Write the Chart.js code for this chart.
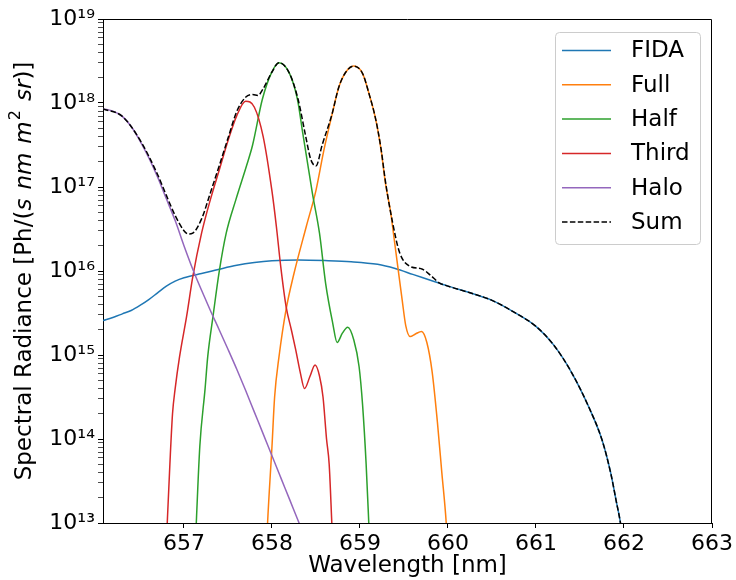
<!DOCTYPE html>
<html>
<head>
<meta charset="utf-8">
<script src="https://cdn.jsdelivr.net/npm/chart.js@4"></script>
<style>
  html, body { margin: 0; padding: 0; background: #fff; }
  #wrap { width: 736px; height: 580px; }
</style>
</head>
<body>
<div id="wrap"><canvas id="specChart" width="736" height="580"></canvas></div>
<script>
// wavelength [nm] and spectral radiance [Ph/(s nm m^2 sr)]
const fidaWl = [656.08, 656.2, 656.3, 656.4, 656.5, 656.6, 656.7, 656.8, 656.9, 657.0, 657.2, 657.4, 657.6, 657.8, 658.0, 658.3, 658.6, 658.9, 659.2, 659.4, 659.6, 659.8, 660.0, 660.25, 660.5, 660.75, 661.0, 661.2, 661.4, 661.6, 661.75, 661.85, 661.91, 661.96, 662.0];
const fidaVal = [2.57e15, 2.82e15, 3.09e15, 3.39e15, 3.89e15, 4.57e15, 5.50e15, 6.61e15, 7.59e15, 8.32e15, 9.33e15, 1.05e16, 1.17e16, 1.26e16, 1.32e16, 1.35e16, 1.33e16, 1.29e16, 1.20e16, 1.07e16, 9.12e15, 7.76e15, 6.61e15, 5.50e15, 4.47e15, 3.24e15, 2.19e15, 1.32e15, 6.31e14, 2.40e14, 9.77e13, 3.89e13, 1.86e13, 1.0e13, 5.0e12];

const fullWl = [657.93, 657.95, 658.00, 658.03, 658.08, 658.16, 658.25, 658.39, 658.50, 658.59, 658.68, 658.76, 658.84, 658.93, 659.03, 659.10, 659.18, 659.24, 659.29, 659.35, 659.39, 659.43, 659.48, 659.52, 659.57, 659.63, 659.70, 659.76, 659.82, 659.88, 659.93, 659.98, 660.0];
const fullVal = [3.2e12, 1.0e13, 8.13e13, 3.16e14, 9.55e14, 3.47e15, 9.33e15, 3.39e16, 9.12e16, 2.75e17, 7.08e17, 1.55e18, 2.34e18, 2.75e18, 2.24e18, 1.32e18, 6.31e17, 2.75e17, 1.10e17, 4.90e16, 2.34e16, 1.12e16, 4.47e15, 2.24e15, 1.66e15, 1.78e15, 1.91e15, 1.41e15, 6.31e14, 1.58e14, 3.98e13, 1.0e13, 4.0e12];

const halfWl = [657.12, 657.14, 657.18, 657.24, 657.27, 657.33, 657.40, 657.48, 657.59, 657.71, 657.78, 657.89, 657.99, 658.08, 658.20, 658.29, 658.35, 658.39, 658.46, 658.54, 658.61, 658.69, 658.74, 658.80, 658.86, 658.93, 658.99, 659.03, 659.07, 659.10, 659.12];
const halfVal = [3.2e12, 1.0e13, 8.13e13, 3.98e14, 9.55e14, 2.88e15, 9.77e15, 2.82e16, 7.08e16, 1.78e17, 3.16e17, 1.10e18, 2.24e18, 3.02e18, 2.24e18, 1.10e18, 4.37e17, 2.40e17, 8.32e16, 2.82e16, 7.08e15, 2.40e15, 1.41e15, 1.82e15, 2.14e15, 1.51e15, 7.24e14, 2.51e14, 5.01e13, 1.0e13, 3.2e12];

const thirdWl = [656.79, 656.81, 656.84, 656.87, 656.90, 656.95, 657.03, 657.10, 657.2, 657.3, 657.4, 657.5, 657.6, 657.7, 657.8, 657.9, 658.0, 658.05, 658.1, 658.16, 658.22, 658.27, 658.32, 658.37, 658.43, 658.49, 658.54, 658.58, 658.62, 658.65, 658.68, 658.70];
const thirdVal = [3.2e12, 1.0e13, 5.01e13, 2.0e14, 3.98e14, 9.55e14, 2.88e15, 8.51e15, 2.82e16, 7.08e16, 1.58e17, 3.55e17, 7.08e17, 1.05e18, 8.91e17, 3.98e17, 8.91e16, 3.39e16, 1.12e16, 3.80e15, 2.0e15, 1.15e15, 6.31e14, 3.98e14, 5.50e14, 7.59e14, 5.62e14, 3.16e14, 1.0e14, 5.01e13, 1.0e13, 3.2e12];

const haloWl = [656.08, 656.2, 656.3, 656.4, 656.5, 656.6, 656.7, 656.8, 656.9, 657.0, 657.1, 657.2, 657.3, 657.4, 657.5, 657.6, 657.7, 657.8, 657.9, 658.0, 658.1, 658.2, 658.3, 658.4];
const haloVal = [8.51e17, 7.94e17, 6.92e17, 5.25e17, 3.55e17, 2.24e17, 1.32e17, 7.24e16, 3.98e16, 2.0e16, 1.05e16, 5.89e15, 3.39e15, 2.00e15, 1.17e15, 6.76e14, 3.80e14, 2.09e14, 1.15e14, 6.31e13, 3.47e13, 1.91e13, 1.05e13, 5.8e12];

const sumWl = [656.08, 656.3, 656.5, 656.7, 656.8, 656.9, 657.0, 657.05, 657.1, 657.2, 657.3, 657.4, 657.5, 657.6, 657.7, 657.78, 657.84, 657.9, 658.0, 658.08, 658.2, 658.3, 658.38, 658.44, 658.5, 658.57, 658.68, 658.76, 658.84, 658.93, 659.03, 659.10, 659.18, 659.24, 659.29, 659.37, 659.45, 659.56, 659.71, 659.8, 659.9, 660.0, 660.25, 660.5, 660.75, 661.0, 661.2, 661.4, 661.6, 661.75, 661.85, 661.91, 661.96, 662.0];
const sumVal = [8.51e17, 6.92e17, 3.63e17, 1.41e17, 7.94e16, 4.57e16, 3.02e16, 2.75e16, 2.82e16, 4.17e16, 8.51e16, 1.78e17, 3.80e17, 7.94e17, 1.17e18, 1.26e18, 1.23e18, 1.48e18, 2.34e18, 3.02e18, 2.24e18, 1.07e18, 4.17e17, 2.14e17, 1.78e17, 3.16e17, 7.24e17, 1.55e18, 2.34e18, 2.75e18, 2.24e18, 1.32e18, 6.31e17, 2.82e17, 1.15e17, 3.80e16, 1.66e16, 1.15e16, 1.05e16, 8.91e15, 7.24e15, 6.61e15, 5.50e15, 4.47e15, 3.24e15, 2.19e15, 1.32e15, 6.31e14, 2.40e14, 9.77e13, 3.89e13, 1.86e13, 1.0e13, 5.0e12];

const xTicks = [657, 658, 659, 660, 661, 662, 663];
const yDecades = [13, 14, 15, 16, 17, 18, 19];

const seriesNames = ["FIDA", "Full", "Half", "Third", "Halo", "Sum"];
const seriesColors = ["#1f77b4", "#ff7f0e", "#2ca02c", "#d62728", "#9467bd", "#000000"];
const sumDash = [5.5, 2.4];

const FONT = "DejaVu Sans";
const SUP = { "0": "\u2070", "1": "\u00b9", "2": "\u00b2", "3": "\u00b3", "4": "\u2074", "5": "\u2075", "6": "\u2076", "7": "\u2077", "8": "\u2078", "9": "\u2079" };

function pts(wl, val) {
    return wl.map((w, i) => ({ x: w, y: val[i] }));
}

function makeSet(i, wl, val) {
    return {
        label: seriesNames[i],
        data: pts(wl, val),
        borderColor: seriesColors[i],
        backgroundColor: seriesColors[i],
        borderWidth: 1.5,
        borderDash: i === 5 ? sumDash : [],
        pointRadius: 0,
        fill: false,
        cubicInterpolationMode: "monotone",
        order: 6 - i   // later series drawn on top, like matplotlib
    };
}

// frame on top/right, legend box inside the axes, y label with italic parts
const extras = {
    id: "extras",
    afterDraw(chart) {
        const ctx = chart.ctx;
        const a = chart.chartArea;
        ctx.save();

        // top and right spines
        ctx.strokeStyle = "#000";
        ctx.lineWidth = 1;
        ctx.beginPath();
        ctx.moveTo(Math.round(a.left) + 0.5, Math.round(a.top) + 0.5);
        ctx.lineTo(Math.round(a.right) - 0.5, Math.round(a.top) + 0.5);
        ctx.lineTo(Math.round(a.right) - 0.5, Math.round(a.bottom) + 0.5);
        ctx.stroke();

        // legend
        const lx = a.right - 157, ly = a.top + 13, lw = 145, lh = 212;
        ctx.fillStyle = "rgba(255,255,255,0.8)";
        ctx.strokeStyle = "#cccccc";
        ctx.lineWidth = 1;
        ctx.beginPath();
        ctx.roundRect(lx + 0.5, ly + 0.5, lw, lh, 4);
        ctx.fill();
        ctx.stroke();
        ctx.font = "23px '" + FONT + "'";
        ctx.textBaseline = "middle";
        ctx.textAlign = "left";
        seriesNames.forEach((name, i) => {
            const yy = ly + 18.5 + i * 34.3;
            ctx.strokeStyle = seriesColors[i];
            ctx.lineWidth = 1.5;
            ctx.setLineDash(i === 5 ? sumDash : []);
            ctx.beginPath();
            ctx.moveTo(lx + 7, yy);
            ctx.lineTo(lx + 56, yy);
            ctx.stroke();
            ctx.setLineDash([]);
            ctx.fillStyle = "#000";
            ctx.fillText(name, lx + 76, yy + 1);
        });

        // y-axis label, italic part as in mathtext
        const reg = "23px '" + FONT + "'";
        const ita = "italic 23px '" + FONT + "'";
        const parts = [
            { t: "Spectral Radiance [Ph/(", f: reg, dy: 0, gap: 0 },
            { t: "s", f: ita, dy: 0, gap: 9 },
            { t: "nm", f: ita, dy: 0, gap: 9 },
            { t: "m", f: ita, dy: 0, gap: 1 },
            { t: "2", f: "16px '" + FONT + "'", dy: -9, gap: 9 },
            { t: "sr", f: ita, dy: 0, gap: 0 },
            { t: ")]", f: reg, dy: 0, gap: 0 }
        ];
        let total = 0;
        parts.forEach(p => { ctx.font = p.f; p.w = ctx.measureText(p.t).width; total += p.w + p.gap; });
        ctx.translate(25, (a.top + a.bottom) / 2);
        ctx.rotate(-Math.PI / 2);
        ctx.fillStyle = "#000";
        ctx.textBaseline = "middle";
        let cx = -total / 2;
        parts.forEach(p => {
            ctx.font = p.f;
            ctx.fillText(p.t, cx, p.dy);
            cx += p.w + p.gap;
        });
        ctx.restore();
    }
};

const ctx = document.getElementById("specChart").getContext("2d");
new Chart(ctx, {
    type: "line",
    data: {
        datasets: [
            makeSet(0, fidaWl, fidaVal),
            makeSet(1, fullWl, fullVal),
            makeSet(2, halfWl, halfVal),
            makeSet(3, thirdWl, thirdVal),
            makeSet(4, haloWl, haloVal),
            makeSet(5, sumWl, sumVal)
        ]
    },
    options: {
        responsive: false,
        animation: false,
        devicePixelRatio: 1,
        layout: { padding: { top: 19, right: 22, left: 0, bottom: 0 } },
        plugins: {
            legend: { display: false },
            tooltip: { enabled: false }
        },
        scales: {
            x: {
                type: "linear",
                min: 656.08,
                max: 663,
                afterBuildTicks: s => { s.ticks = xTicks.map(v => ({ value: v })); },
                afterFit: s => { s.height = 57; },
                ticks: {
                    color: "#000",
                    font: { family: FONT, size: 22 },
                    padding: 3,
                    maxRotation: 0,
                    autoSkip: false,
                    callback: v => String(v)
                },
                grid: { drawOnChartArea: false, tickLength: 5, tickColor: "#000", tickWidth: 1 },
                border: { color: "#000", width: 1 },
                title: { display: true, text: "Wavelength [nm]", color: "#000", font: { family: FONT, size: 23 }, padding: 0 }
            },
            y: {
                type: "logarithmic",
                min: 1e13,
                max: 1e19,
                afterBuildTicks: s => {
                    const t = [];
                    yDecades.forEach(d => {
                        const top = d === yDecades[yDecades.length - 1] ? 1 : 9;
                        for (let m = 1; m <= top; m++) t.push({ value: m * Math.pow(10, d), major: m === 1 });
                    });
                    s.ticks = t;
                },
                afterFit: s => { s.width = 103; },
                ticks: {
                    color: "#000",
                    font: { family: FONT, size: 22 },
                    padding: 3,
                    autoSkip: false,
                    callback: (v, i, ticks) => {
                        if (!ticks[i].major) return "";
                        const e = String(Math.round(Math.log10(v)));
                        return "10" + e.split("").map(c => SUP[c]).join("");
                    }
                },
                grid: {
                    drawOnChartArea: false,
                    tickLength: 5,
                    tickColor: "#000",
                    tickWidth: c => (c.tick && c.tick.major ? 1 : 0.7)
                },
                border: { color: "#000", width: 1 }
            }
        }
    },
    plugins: [extras]
});
</script>
</body>
</html>
